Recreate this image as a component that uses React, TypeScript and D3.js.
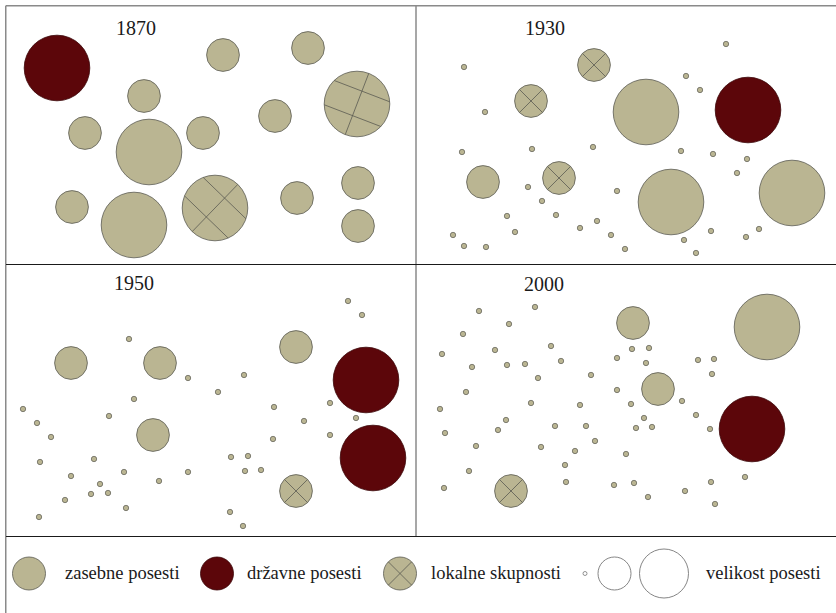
import React from 'react';
import * as d3 from 'd3';

type Pt = [number, number];

// ---- panel titles ----
const years: string[] = ['1870', '1930', '1950', '2000'];

// ---- legend labels ----
const legendLabels: string[] = ['zasebne posesti', 'državne posesti', 'lokalne skupnosti', 'velikost posesti'];

// ---- size classes ----
const sizeClasses: string[] = ['dot', 'medium', 'large'];

// ---- 1870 ----
const z1870M: Pt[] = [[223, 55], [308, 48], [144, 96], [85, 133], [203, 133], [275, 116], [72, 207], [297, 198], [358, 183], [358, 226]];
const z1870L: Pt[] = [[149, 152], [134, 225]];
const d1870L: Pt[] = [[57, 68]];
const l1870L: Pt[] = [[357, 104], [215, 208]];
const l1870Angles: number[] = [21, 44];

// ---- 1930 ----
const z1930M: Pt[] = [[68, 182]];
const z1930L: Pt[] = [[231, 112], [256, 202], [377, 193]];
const d1930L: Pt[] = [[333, 110]];
const l1930M: Pt[] = [[179, 65], [116, 101], [144, 178]];
const dots1930: Pt[] = [[49, 67], [311, 44], [271, 76], [285, 90], [70, 112], [47, 152], [117, 149], [178, 147], [266, 151], [298, 154], [332, 159], [322, 173], [113, 187], [202, 191], [127, 201], [92, 216], [141, 215], [182, 221], [165, 228], [100, 232], [196, 235], [296, 231], [344, 229], [331, 237], [38, 235], [49, 246], [71, 247], [210, 249], [269, 240], [281, 253]];

// ---- 1950 ----
const z1950M: Pt[] = [[71, 101], [160, 101], [296, 85], [153, 173]];
const d1950L: Pt[] = [[366, 118], [373, 196]];
const l1950M: Pt[] = [[296, 229]];
const dots1950: Pt[] = [[348, 39], [362, 53], [129, 77], [188, 116], [244, 113], [218, 130], [134, 137], [23, 147], [37, 161], [51, 175], [109, 154], [274, 145], [330, 141], [304, 159], [356, 156], [330, 173], [273, 177], [40, 200], [94, 197], [71, 214], [124, 210], [188, 210], [159, 219], [231, 195], [248, 194], [245, 209], [261, 208], [100, 222], [91, 232], [108, 231], [65, 238], [126, 246], [39, 255], [230, 250], [243, 264]];

// ---- 2000 ----
const z2000M: Pt[] = [[218, 61], [243, 127]];
const z2000L: Pt[] = [[352, 65]];
const d2000L: Pt[] = [[337, 167]];
const l2000M: Pt[] = [[96, 229]];
const dots2000: Pt[] = [[64, 49], [120, 45], [94, 62], [48, 72], [27, 92], [80, 88], [136, 84], [57, 105], [92, 103], [110, 102], [146, 99], [123, 116], [176, 113], [217, 87], [234, 86], [202, 96], [231, 101], [283, 98], [299, 97], [297, 112], [51, 130], [202, 128], [25, 147], [116, 141], [165, 143], [216, 142], [267, 139], [281, 153], [229, 156], [30, 171], [91, 158], [83, 168], [140, 164], [171, 164], [221, 166], [237, 165], [295, 167], [180, 179], [61, 184], [126, 185], [160, 189], [211, 192], [150, 203], [54, 209], [151, 220], [199, 223], [219, 221], [29, 226], [330, 215], [296, 220], [270, 229], [233, 235], [300, 242]];

type Rec = { kind: string; size: string; x: number; y: number; angle?: number };

function recs(kind: string, size: string, pts: Pt[], angles?: number[]): Rec[] {
  return pts.map((p, i) => ({ kind, size, x: p[0], y: p[1], angle: angles ? angles[i] : undefined }));
}

const panelData: Rec[][] = [
  [...recs('z', 'medium', z1870M), ...recs('z', 'large', z1870L), ...recs('d', 'large', d1870L), ...recs('l', 'large', l1870L, l1870Angles)],
  [...recs('z', 'dot', dots1930), ...recs('z', 'medium', z1930M), ...recs('z', 'large', z1930L), ...recs('d', 'large', d1930L), ...recs('l', 'medium', l1930M)],
  [...recs('z', 'dot', dots1950), ...recs('z', 'medium', z1950M), ...recs('d', 'large', d1950L), ...recs('l', 'medium', l1950M)],
  [...recs('z', 'dot', dots2000), ...recs('z', 'medium', z2000M), ...recs('z', 'large', z2000L), ...recs('d', 'large', d2000L), ...recs('l', 'medium', l2000M)],
];

const TAN = '#bab592';
const RED = '#5c060a';
const STROKE = '#5a5a52';
const FONT = '"Liberation Serif", "DejaVu Serif", serif';

const W = 836;
const H = 613;
const panelOrigins: Pt[] = [[0, 0], [415, 0], [0, 262], [415, 262]];
const titlePos: Pt[] = [[136, 35], [545, 35], [134, 290], [544, 291]];

const rScale = d3.scaleOrdinal<string, number>().domain(sizeClasses).range([2.7, 16.4, 32.8]);

function chord(cx: number, cy: number, r: number, angleDeg: number, offset: number) {
  const a = (angleDeg * Math.PI) / 180;
  const dx = Math.cos(a), dy = Math.sin(a);
  const nx = -dy, ny = dx;
  const half = Math.sqrt(Math.max(0, r * r - offset * offset));
  const px = cx + nx * offset, py = cy + ny * offset;
  return { x1: px - dx * half, y1: py - dy * half, x2: px + dx * half, y2: py + dy * half };
}

function Hatch({ cx, cy, r, size, angle }: { cx: number; cy: number; r: number; size: string; angle?: number }) {
  let lines: { x1: number; y1: number; x2: number; y2: number }[] = [];
  if (size === 'large') {
    const a = angle ?? 45;
    lines = [chord(cx, cy, r, a, -0.42 * r), chord(cx, cy, r, a, 0.38 * r), chord(cx, cy, r, a + 90, 0)];
  } else {
    lines = [chord(cx, cy, r, 45, 0), chord(cx, cy, r, 135, 0)];
  }
  return (
    <g>
      {lines.map((l, i) => (
        <line key={i} {...l} stroke={STROKE} strokeWidth={0.8} />
      ))}
    </g>
  );
}

function Mark({ d, x, y }: { d: Rec; x: (v: number) => number; y: (v: number) => number }) {
  const r = rScale(d.size);
  const cx = x(d.x), cy = y(d.y);
  const fill = d.kind === 'd' ? RED : TAN;
  return (
    <g>
      <circle cx={cx} cy={cy} r={r} fill={fill} stroke={d.kind === 'd' ? '#3a0406' : STROKE} strokeWidth={d.size === 'dot' ? 0.7 : 0.8} />
      {d.kind === 'l' && <Hatch cx={cx} cy={cy} r={r} size={d.size} angle={d.angle} />}
    </g>
  );
}

export default function App() {
  const legendY = 573.5;
  const fs = 18.5;
  return (
    <svg width={W} height={H} style={{ position: 'absolute', left: 0, top: 0, background: '#fff' }} fontFamily={FONT}>
      <rect x={0} y={0} width={W} height={H} fill="#fff" />
      {panelData.map((data, pi) => {
        const [ox, oy] = panelOrigins[pi];
        const x = d3.scaleLinear().domain([0, 415]).range([ox, ox + 415]);
        const y = d3.scaleLinear().domain([0, 274]).range([oy, oy + 274]);
        const sorted = [...data].sort((a, b) => sizeClasses.indexOf(a.size) - sizeClasses.indexOf(b.size));
        return (
          <g key={pi}>
            {sorted.map((d, i) => (
              <Mark key={i} d={d} x={x} y={y} />
            ))}
            <text x={titlePos[pi][0]} y={titlePos[pi][1]} textAnchor="middle" fontSize={20} fill="#1a1a1a">
              {years[pi]}
            </text>
          </g>
        );
      })}
      {/* frame */}
      <line x1={5.75} y1={5.75} x2={W} y2={5.75} stroke="#8a8a8a" strokeWidth={1.5} />
      <line x1={5.75} y1={5.75} x2={5.75} y2={H} stroke="#8a8a8a" strokeWidth={1.5} />
      <line x1={416} y1={6} x2={416} y2={536} stroke="#8a8a8a" strokeWidth={1.5} />
      <line x1={6} y1={264.5} x2={W} y2={264.5} stroke="#1a1a1a" strokeWidth={1} />
      <line x1={6} y1={536.5} x2={W} y2={536.5} stroke="#1a1a1a" strokeWidth={1} />
      {/* legend */}
      <g>
        <circle cx={29} cy={legendY} r={16.5} fill={TAN} stroke={STROKE} strokeWidth={0.8} />
        <text x={65} y={legendY + 5.5} fontSize={fs} fill="#1a1a1a">{legendLabels[0]}</text>
        <circle cx={217} cy={legendY} r={16.5} fill={RED} stroke="#3a0406" strokeWidth={0.8} />
        <text x={247} y={legendY + 5.5} fontSize={fs} fill="#1a1a1a">{legendLabels[1]}</text>
        <circle cx={400} cy={legendY} r={16.5} fill={TAN} stroke={STROKE} strokeWidth={0.8} />
        <Hatch cx={400} cy={legendY} r={16.5} size="medium" />
        <text x={431} y={legendY + 5.5} fontSize={fs} fill="#1a1a1a">{legendLabels[2]}</text>
        <circle cx={585} cy={legendY} r={2} fill="none" stroke="#777" strokeWidth={0.8} />
        <circle cx={614.5} cy={legendY} r={16.5} fill="none" stroke="#777" strokeWidth={0.9} />
        <circle cx={664} cy={legendY} r={24.5} fill="none" stroke="#777" strokeWidth={0.9} />
        <text x={706} y={legendY + 5.5} fontSize={fs} fill="#1a1a1a">{legendLabels[3]}</text>
      </g>
    </svg>
  );
}
